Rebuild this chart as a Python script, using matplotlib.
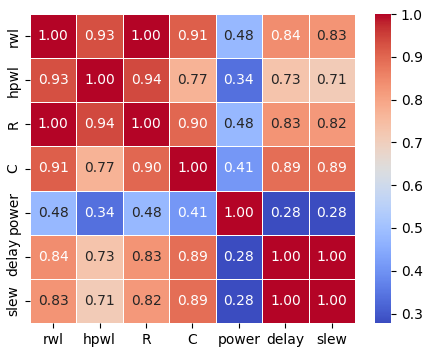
import matplotlib
matplotlib.use("Agg")
import matplotlib.pyplot as plt
import numpy as np
import pandas as pd
import seaborn as sns

labels = ['rwl', 'hpwl', 'R', 'C', 'power', 'delay', 'slew']
corr = [
    [1.00, 0.93, 1.00, 0.91, 0.48, 0.84, 0.83],
    [0.93, 1.00, 0.94, 0.77, 0.34, 0.73, 0.71],
    [1.00, 0.94, 1.00, 0.90, 0.48, 0.83, 0.82],
    [0.91, 0.77, 0.90, 1.00, 0.41, 0.89, 0.89],
    [0.48, 0.34, 0.48, 0.41, 1.00, 0.28, 0.28],
    [0.84, 0.73, 0.83, 0.89, 0.28, 1.00, 1.00],
    [0.83, 0.71, 0.82, 0.89, 0.28, 1.00, 1.00],
]
df = pd.DataFrame(corr, index=labels, columns=labels)

W, H = 429, 354
fig = plt.figure(figsize=(W / 100, H / 100), dpi=100)
ax = fig.add_axes([30 / W, 1 - 323 / H, 325 / W, 309 / H])
cax = fig.add_axes([375 / W, 1 - 323 / H, 16 / W, 309 / H])

sns.heatmap(df, annot=True, fmt='.2f', cmap='coolwarm', vmin=0.278, vmax=1.0,
            linewidths=0.5, linecolor='white', ax=ax, cbar_ax=cax,
            annot_kws={'fontsize': 10})
ax.tick_params(labelsize=10)
cax.tick_params(labelsize=10)
cax.set_yticks([0.3, 0.4, 0.5, 0.6, 0.7, 0.8, 0.9, 1.0])
for s in cax.spines.values():
    s.set_visible(False)

fig.savefig('out.png', dpi=100)
